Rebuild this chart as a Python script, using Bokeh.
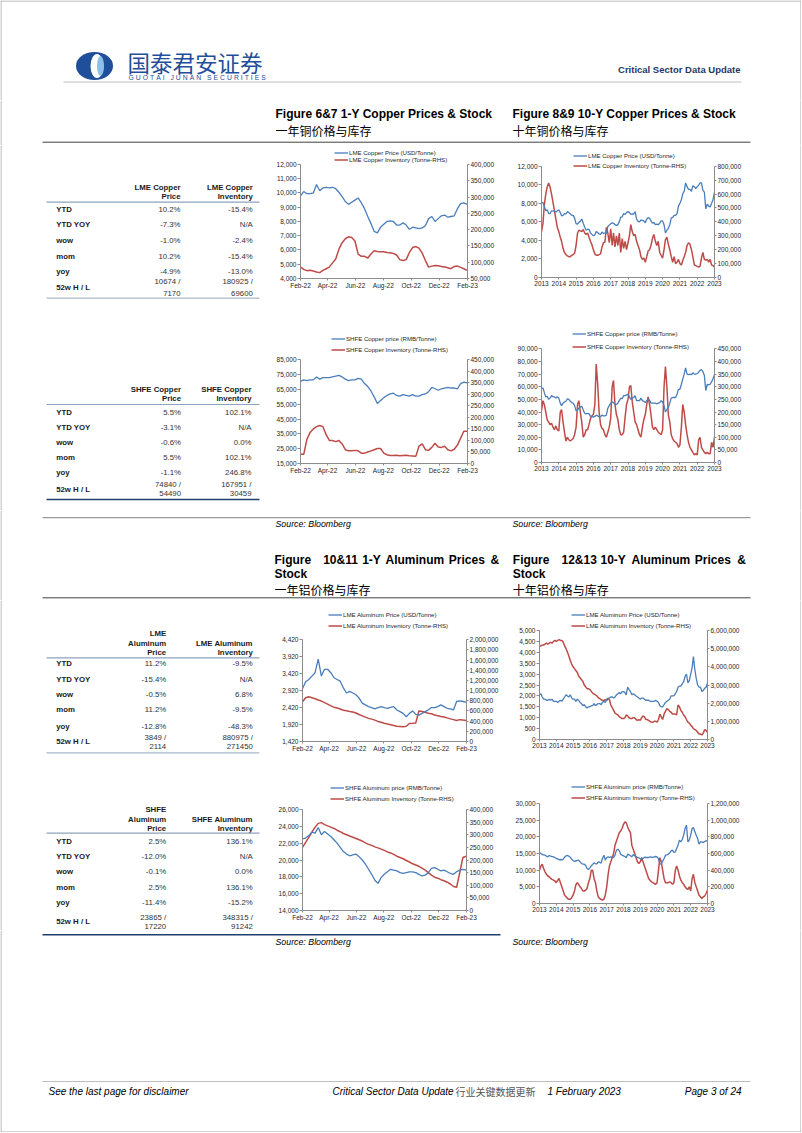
import pandas as pd
from bokeh.plotting import figure
from bokeh.layouts import column, row
from bokeh.models import (Range1d, LinearAxis, FixedTicker, DatetimeTickFormatter,
                          NumeralTickFormatter, Legend, LegendItem)
from bokeh.core.properties import value
from bokeh.embed import file_html
from bokeh.resources import INLINE

# ------------------------------------------------------------------ data
ROW_LABELS = ["YTD", "YTD YOY", "wow", "mom", "yoy", "52w H / L"]

LME_CU_PRICE_STATS = ["10.2%", "-7.3%", "-1.0%", "10.2%", "-4.9%"]
LME_CU_PRICE_HL = ["10674 /", "7170"]
LME_CU_INV_STATS = ["-15.4%", "N/A", "-2.4%", "-15.4%", "-13.0%"]
LME_CU_INV_HL = ["180925 /", "69600"]

SHFE_CU_PRICE_STATS = ["5.5%", "-3.1%", "-0.6%", "5.5%", "-1.1%"]
SHFE_CU_PRICE_HL = ["74840 /", "54490"]
SHFE_CU_INV_STATS = ["102.1%", "N/A", "0.0%", "102.1%", "246.8%"]
SHFE_CU_INV_HL = ["167951 /", "30459"]

LME_AL_PRICE_STATS = ["11.2%", "-15.4%", "-0.5%", "11.2%", "-12.8%"]
LME_AL_PRICE_HL = ["3849 /", "2114"]
LME_AL_INV_STATS = ["-9.5%", "N/A", "6.8%", "-9.5%", "-48.3%"]
LME_AL_INV_HL = ["880975 /", "271450"]

SHFE_AL_PRICE_STATS = ["2.5%", "-12.0%", "-0.1%", "2.5%", "-11.4%"]
SHFE_AL_PRICE_HL = ["23865 /", "17220"]
SHFE_AL_INV_STATS = ["136.1%", "N/A", "0.0%", "136.1%", "-15.2%"]
SHFE_AL_INV_HL = ["348315 /", "91242"]

# 1-year charts: weekly readings from 1 Feb 2022
LME_CU_1Y_PRICE = [9800, 10100, 9950, 9950, 10000, 10600, 10150, 10350, 10400, 10350,
                   10400, 10300, 10050, 9750, 9400, 9200, 9350, 9500, 9650, 9300,
                   8900, 8350, 7850, 7300, 7200, 7600, 7800, 8000, 8050, 8000,
                   7750, 7750, 7900, 7750, 7450, 7600, 7550, 7500, 7550, 7700,
                   8200, 8350, 8000, 8200, 8400, 8450, 8300, 8350, 8400, 8900,
                   9250, 9300, 9200]
LME_CU_1Y_INV = [85000, 78000, 74000, 75000, 73000, 70000, 68000, 75000, 80000, 85000,
                 98000, 110000, 140000, 160000, 172000, 178000, 176000, 165000, 125000, 118000,
                 118000, 113000, 125000, 135000, 133000, 132000, 132000, 130000, 129000, 127000,
                 122000, 108000, 105000, 108000, 130000, 145000, 148000, 143000, 128000, 105000,
                 85000, 88000, 90000, 89000, 87000, 85000, 83000, 80000, 87000, 88000,
                 84000, 80000, 75000]
SHFE_CU_1Y_PRICE = [70500, 71500, 71000, 71500, 71500, 73500, 72000, 73000, 73000, 73000,
                    73500, 74000, 74500, 73500, 72000, 71000, 71500, 71500, 72500, 72000,
                    69000, 67000, 64000, 60000, 55500, 57500, 59500, 61000, 62000, 62500,
                    61000, 60500, 61500, 61000, 60500, 61500, 60500, 60500, 61500, 62000,
                    63500, 66500, 65500, 64500, 65500, 66000, 66500, 66000, 66000, 65500,
                    69000, 70000, 69500]
SHFE_CU_1Y_INV = [40000, 40000, 105000, 135000, 150000, 160000, 165000, 160000, 125000, 100000,
                  100000, 95000, 100000, 85000, 60000, 55000, 55000, 57000, 55000, 45000,
                  45000, 50000, 55000, 60000, 65000, 65000, 45000, 38000, 35000, 35000,
                  36000, 34000, 35000, 36000, 34000, 33000, 31000, 75000, 85000, 60000,
                  57000, 70000, 88000, 72000, 70000, 75000, 60000, 55000, 62000, 80000,
                  110000, 140000, 140000]
LME_AL_1Y_PRICE = [2980, 3180, 3250, 3350, 3450, 3850, 3350, 3550, 3550, 3450,
                   3300, 3250, 3200, 3000, 2850, 2900, 2850, 2800, 2700, 2550,
                   2500, 2450, 2420, 2380, 2420, 2450, 2420, 2400, 2430, 2450,
                   2350, 2300, 2250, 2150, 2250, 2320, 2220, 2200, 2250, 2300,
                   2350, 2420, 2420, 2450, 2500, 2450, 2400, 2380, 2350, 2600,
                   2620, 2600, 2580]
LME_AL_1Y_INV = [780000, 860000, 880000, 860000, 840000, 815000, 795000, 765000, 735000, 700000,
                 675000, 660000, 640000, 615000, 605000, 590000, 580000, 560000, 530000, 505000,
                 480000, 455000, 440000, 420000, 395000, 380000, 360000, 345000, 330000, 315000,
                 300000, 295000, 290000, 300000, 355000, 358000, 362000, 600000, 590000, 575000,
                 555000, 545000, 520000, 505000, 490000, 480000, 465000, 445000, 430000, 415000,
                 430000, 425000, 415000]
SHFE_AL_1Y_PRICE = [22500, 22600, 22900, 23300, 23200, 23865, 23000, 23400, 23100, 22800,
                    22400, 22000, 21500, 21000, 20700, 20500, 20600, 20700, 20400, 20000,
                    19500, 18900, 18300, 17600, 17220, 17900, 18300, 18600, 18900, 18800,
                    18700, 18500, 18400, 18500, 18600, 18600, 18500, 18300, 18100, 18200,
                    18500, 19000, 19100, 18900, 18700, 18800, 18600, 18400, 18300, 18600,
                    18800, 18900, 18800]
SHFE_AL_1Y_INV = [250000, 270000, 290000, 310000, 330000, 345000, 348000, 340000, 335000, 330000,
                  325000, 318000, 312000, 305000, 300000, 295000, 290000, 285000, 280000, 275000,
                  268000, 262000, 258000, 252000, 248000, 243000, 238000, 232000, 228000, 222000,
                  215000, 210000, 205000, 198000, 192000, 185000, 180000, 175000, 168000, 160000,
                  150000, 140000, 132000, 128000, 122000, 118000, 112000, 105000, 95000, 92000,
                  150000, 210000, 215000]

# 10-year charts: monthly readings from Jan 2013 to Feb 2023
LME_CU_10Y_PRICE = [8050, 8100, 7650, 7200, 7300, 6900, 6900, 7200, 7150, 7200, 7050, 7200,
                    7300, 7000, 6650, 6700, 6900, 6850, 7100, 7000, 6850, 6700, 6700, 6400,
                    5800, 5750, 5950, 6050, 6300, 5850, 5450, 5100, 5200, 5200, 4800, 4650,
                    4500, 4600, 4950, 4850, 4700, 4650, 4900, 4750, 4800, 4750, 5500, 5650,
                    5800, 5900, 5850, 5700, 5600, 5700, 6000, 6500, 6550, 6900, 6800, 7000,
                    7100, 7000, 6800, 6850, 6850, 7100, 6300, 6050, 6000, 6200, 6150, 6100,
                    5900, 6300, 6450, 6400, 6100, 5850, 5950, 5700, 5750, 5700, 5850, 6100,
                    6100, 5700, 4800, 5100, 5300, 5700, 6400, 6500, 6700, 6700, 6900, 7700,
                    8000, 8400, 9000, 9300, 10200, 9800, 9500, 9500, 9300, 9900, 9800, 9600,
                    9800, 9950, 10200, 10200, 9400, 9200, 7400, 7900, 7700, 7600, 8000, 8400,
                    9200, 9300]
LME_CU_10Y_INV = [330000, 390000, 520000, 600000, 650000, 680000, 650000, 600000, 540000, 480000, 420000, 360000,
                  330000, 290000, 260000, 210000, 180000, 165000, 155000, 150000, 150000, 160000, 165000, 175000,
                  230000, 320000, 340000, 335000, 330000, 345000, 320000, 310000, 320000, 290000, 260000, 235000,
                  200000, 170000, 160000, 160000, 165000, 170000, 220000, 250000, 255000, 360000, 320000, 250000,
                  350000, 230000, 320000, 220000, 300000, 230000, 320000, 180000, 280000, 210000, 260000, 200000,
                  250000, 300000, 380000, 330000, 300000, 310000, 260000, 230000, 200000, 150000, 130000, 140000,
                  110000, 150000, 190000, 200000, 230000, 280000, 310000, 260000, 230000, 260000, 180000, 160000,
                  140000, 200000, 270000, 290000, 240000, 200000, 150000, 110000, 150000, 100000, 110000, 130000,
                  100000, 90000, 120000, 150000, 180000, 230000, 250000, 240000, 200000, 150000, 90000, 85000,
                  80000, 75000, 80000, 140000, 180000, 130000, 125000, 130000, 110000, 130000, 90000, 85000,
                  75000, 75000]
SHFE_CU_10Y_PRICE = [58500, 59000, 55500, 52000, 52500, 50000, 51000, 53000, 52000, 52000, 51000, 52000,
                     51000, 47000, 45000, 47000, 48000, 48500, 50500, 50000, 48500, 47500, 47000, 45000,
                     41000, 41500, 43000, 44000, 44500, 41500, 39000, 38500, 39000, 38500, 36500, 36500,
                     36000, 36500, 37500, 37000, 36000, 36500, 37500, 37000, 37000, 37500, 43000, 45000,
                     47000, 48000, 47500, 46000, 46000, 47000, 49000, 51000, 50500, 53000, 53000, 53500,
                     54000, 52000, 50000, 51000, 51500, 53000, 49000, 49000, 49000, 51000, 49000, 48500,
                     47500, 49000, 50000, 49500, 47000, 47000, 47000, 47000, 46500, 47000, 47500, 49000,
                     48000, 45000, 40000, 42000, 43500, 47000, 51000, 51500, 51500, 51500, 54000, 58000,
                     58000, 62000, 66000, 70000, 75000, 70000, 69500, 70000, 69500, 71000, 70000, 70000,
                     70500, 71500, 73000, 73500, 72000, 69000, 57000, 62000, 61500, 62000, 64000, 66500,
                     69500, 70000]
SHFE_CU_10Y_INV = [205000, 245000, 230000, 200000, 170000, 160000, 150000, 155000, 140000, 130000, 145000, 130000,
                   125000, 200000, 210000, 160000, 120000, 85000, 100000, 90000, 85000, 90000, 95000, 110000,
                   140000, 230000, 245000, 200000, 160000, 100000, 110000, 130000, 130000, 150000, 175000, 185000,
                   190000, 230000, 390000, 310000, 200000, 150000, 135000, 130000, 110000, 100000, 120000, 140000,
                   175000, 300000, 325000, 230000, 190000, 170000, 130000, 110000, 110000, 120000, 180000, 230000,
                   250000, 300000, 305000, 240000, 200000, 160000, 150000, 130000, 110000, 100000, 140000, 170000,
                   190000, 230000, 260000, 230000, 190000, 140000, 130000, 140000, 130000, 120000, 115000, 110000,
                   130000, 300000, 380000, 300000, 190000, 160000, 110000, 95000, 85000, 80000, 75000, 60000,
                   70000, 140000, 230000, 200000, 150000, 110000, 80000, 60000, 50000, 40000, 30000, 35000,
                   30000, 90000, 100000, 60000, 50000, 40000, 35000, 40000, 35000, 35000, 80000, 60000,
                   100000, 140000]
LME_AL_10Y_PRICE = [2050, 2100, 1950, 1850, 1850, 1800, 1800, 1850, 1800, 1850, 1750, 1750,
                    1750, 1700, 1750, 1800, 1750, 1850, 1950, 2050, 2000, 1950, 2050, 1900,
                    1850, 1850, 1750, 1850, 1800, 1700, 1650, 1550, 1600, 1500, 1450, 1500,
                    1500, 1550, 1550, 1650, 1550, 1600, 1650, 1650, 1600, 1700, 1750, 1700,
                    1850, 1900, 1900, 1950, 1950, 1900, 1950, 2050, 2100, 2150, 2100, 2200,
                    2200, 2150, 2050, 2400, 2300, 2200, 2050, 2100, 2050, 2000, 1950, 1900,
                    1850, 1900, 1900, 1850, 1800, 1800, 1800, 1750, 1750, 1750, 1750, 1800,
                    1750, 1700, 1550, 1500, 1500, 1600, 1700, 1750, 1800, 1850, 2000, 2000,
                    2000, 2100, 2200, 2400, 2450, 2450, 2550, 2650, 2900, 3000, 2600, 2700,
                    3000, 3300, 3800, 3200, 2800, 2500, 2400, 2400, 2200, 2250, 2350, 2400,
                    2600, 2600]
LME_AL_10Y_INV = [5150000, 5150000, 5200000, 5200000, 5250000, 5300000, 5250000, 5300000, 5350000, 5300000, 5400000, 5450000,
                  5400000, 5450000, 5500000, 5450000, 5450000, 5350000, 5150000, 5000000, 4800000, 4600000, 4350000, 4150000,
                  4000000, 3900000, 3800000, 3700000, 3500000, 3400000, 3300000, 3200000, 3000000, 2900000, 2800000, 2800000,
                  2750000, 2650000, 2550000, 2500000, 2450000, 2400000, 2300000, 2250000, 2200000, 2150000, 2150000, 2200000,
                  2150000, 2250000, 2200000, 1900000, 1750000, 1600000, 1450000, 1400000, 1350000, 1250000, 1200000, 1150000,
                  1150000, 1200000, 1350000, 1300000, 1200000, 1150000, 1150000, 1200000, 1200000, 1100000, 1050000, 1100000,
                  1050000, 1200000, 1300000, 1250000, 1100000, 1100000, 1050000, 1000000, 950000, 950000, 1000000, 1000000,
                  950000, 1100000, 1400000, 1250000, 1100000, 1400000, 1550000, 1700000, 1650000, 1550000, 1500000, 1400000,
                  1400000, 1400000, 1350000, 1900000, 1800000, 1600000, 1500000, 1350000, 1250000, 1100000, 950000, 900000,
                  800000, 700000, 600000, 550000, 500000, 400000, 300000, 300000, 250000, 350000, 550000, 500000,
                  400000, 400000]
SHFE_AL_10Y_PRICE = [15300, 15000, 14700, 14600, 14500, 14200, 14000, 14400, 14200, 14100, 14000, 13800,
                     13500, 13400, 13100, 13200, 13100, 13300, 13900, 14300, 14400, 14200, 13900, 13300,
                     12900, 12600, 12800, 12900, 13000, 12500, 12100, 11800, 11800, 11400, 10500, 10200,
                     10700, 11300, 11700, 12200, 11900, 11900, 12500, 12400, 12100, 13500, 14500, 13000,
                     13800, 14000, 13800, 14000, 13900, 13800, 14500, 16000, 16300, 15800, 14800, 14500,
                     14300, 14100, 13700, 14800, 14600, 14300, 14000, 14700, 14300, 14100, 13800, 13700,
                     13400, 13500, 13500, 13900, 13800, 13800, 13800, 14000, 13900, 13800, 14000, 14100,
                     14000, 13400, 11800, 11900, 12700, 13500, 14500, 14600, 14800, 15200, 15800, 16000,
                     15300, 15500, 16500, 17500, 19000, 18500, 19200, 20500, 22500, 23500, 18500, 19000,
                     20500, 22500, 22800, 21500, 20500, 19500, 17800, 18500, 18500, 18300, 18600, 18800,
                     18900, 18800]
SHFE_AL_10Y_INV = [400000, 450000, 470000, 420000, 380000, 350000, 330000, 320000, 300000, 290000, 280000, 270000,
                   250000, 280000, 300000, 250000, 200000, 150000, 100000, 80000, 60000, 50000, 50000, 70000,
                   100000, 150000, 220000, 250000, 230000, 200000, 180000, 150000, 150000, 160000, 180000, 250000,
                   300000, 400000, 400000, 300000, 250000, 150000, 80000, 60000, 50000, 40000, 50000, 100000,
                   200000, 350000, 450000, 500000, 550000, 600000, 700000, 750000, 800000, 850000, 870000, 900000,
                   950000, 980000, 970000, 920000, 880000, 850000, 700000, 650000, 600000, 550000, 500000, 480000,
                   500000, 550000, 500000, 450000, 400000, 350000, 300000, 280000, 260000, 250000, 240000, 230000,
                   250000, 400000, 550000, 500000, 400000, 300000, 250000, 250000, 250000, 260000, 250000, 230000,
                   250000, 400000, 450000, 400000, 330000, 280000, 250000, 230000, 200000, 180000, 170000, 200000,
                   150000, 300000, 350000, 250000, 200000, 150000, 100000, 80000, 60000, 80000, 90000, 120000,
                   160000, 200000]

DATES_1Y = pd.date_range("2022-02-01", periods=len(LME_CU_1Y_PRICE), freq="7D")
DATES_10Y = pd.date_range("2013-01-01", periods=len(LME_CU_10Y_PRICE), freq="MS")
TICKS_1Y = ["2022-02-01", "2022-04-01", "2022-06-01", "2022-08-01", "2022-10-01", "2022-12-01", "2023-02-01"]
TICKS_10Y = [f"{y}-01-01" for y in range(2013, 2024)]

# ------------------------------------------------------------------ style
FONT = "Liberation Sans"
CJK = "Noto Sans CJK SC"
BLUE = "#4A7EBB"
RED = "#BE4B48"
AXIS = "#8C8C8C"
NAVY = "#1F3F6E"
LOGO = "#1F4E9A"
PAGE_W, PAGE_H = 801, 1132


def ms(s):
    return pd.Timestamp(s).value // 10**6


def canvas(x0, y0, x1, y1):
    p = figure(width=x1 - x0, height=y1 - y0, x_range=Range1d(x0, x1), y_range=Range1d(y1, y0),
               x_axis_type=None, y_axis_type=None, output_backend="svg",
               toolbar_location=None, min_border=0)
    p.outline_line_color = None
    return p


def txt(p, x, y, s, size, style="normal", align="left", color="#000000", font=FONT):
    p.text(x=[x], y=[y], text=[s], text_font=value(font), text_font_size=f"{size}px",
           text_font_style=style, text_align=align, text_baseline="middle", text_color=color)


def hline(p, x0, x1, y, color, w=1.0):
    p.line(x=[x0, x1], y=[y, y], line_color=color, line_width=w)


def vline(p, x, y0, y1, color="#A6A6A6", w=1.0):
    p.line(x=[x, x], y=[y0, y1], line_color=color, line_width=w)


def style_axis(ax, tick_out=3, standoff=1):
    ax.axis_line_color = AXIS
    ax.major_tick_line_color = AXIS
    ax.minor_tick_line_color = None
    ax.major_tick_out = tick_out
    ax.major_tick_in = 0
    ax.major_label_text_font = FONT
    ax.major_label_text_font_size = "6.5px"
    ax.major_label_text_color = "#262626"
    ax.major_label_standoff = standoff


def chart(box, frame, dates, price, inv, yr, ystep, y2r, y2step, ticks, xfmt, labels, leg):
    """frame = page position of the axes box; the drawing frame itself is stretched
    up to the top of the figure so the legend can sit above the value range."""
    x0, y0, x1, y1 = box
    L, T, R, B = frame
    top = y0 + 2
    k = (B - top) / (B - T)
    p = figure(width=x1 - x0, height=y1 - y0, x_axis_type="datetime",
               x_range=Range1d(ms(ticks[0]), ms(ticks[-1])),
               y_range=Range1d(yr[0], yr[0] + (yr[1] - yr[0]) * k),
               min_border_left=round(L - x0), min_border_right=round(x1 - R),
               min_border_top=round(top - y0), min_border_bottom=round(y1 - B),
               output_backend="svg", toolbar_location=None)
    p.grid.visible = False
    p.outline_line_color = None
    p.extra_y_ranges = {"inv": Range1d(y2r[0], y2r[0] + (y2r[1] - y2r[0]) * k)}
    r2 = p.line(dates, inv, line_color=RED, line_width=1.5, y_range_name="inv")
    r1 = p.line(dates, price, line_color=BLUE, line_width=1.3)

    yax = p.yaxis[0]
    yax.ticker = FixedTicker(ticks=list(range(yr[0], yr[1] + 1, ystep)))
    yax.formatter = NumeralTickFormatter(format="0,0")
    yax.bounds = (yr[0], yr[1])
    style_axis(yax, 3, 1)
    ax2 = LinearAxis(y_range_name="inv", bounds=(y2r[0], y2r[1]),
                     ticker=FixedTicker(ticks=list(range(y2r[0], y2r[1] + 1, y2step))),
                     formatter=NumeralTickFormatter(format="0,0"))
    style_axis(ax2, 2, 1)
    p.add_layout(ax2, "right")
    xax = p.xaxis[0]
    xax.ticker = FixedTicker(ticks=[ms(t) for t in ticks])
    xax.formatter = DatetimeTickFormatter(days=xfmt, months=xfmt, years=xfmt)
    style_axis(xax, 2, 1)

    c1, c2, gx = leg
    ih = 7
    sp = max(0, round(c2 - c1 - ih))
    bottom = c1 - ih / 2 + 2 * ih + sp
    lg = Legend(items=[LegendItem(label=labels[0], renderers=[r1]),
                       LegendItem(label=labels[1], renderers=[r2])],
                location=(round(gx - L), round(B - bottom)), orientation="vertical",
                padding=0, margin=0, spacing=sp, glyph_width=14, glyph_height=ih,
                label_height=ih, label_standoff=1, label_text_font=FONT,
                label_text_font_size="6.1px", label_text_color="#262626",
                border_line_color=None, background_fill_alpha=0)
    p.add_layout(lg)
    return p


def table(p, heads1, heads2, head_y, under_y, row_ys, s1, s2, hl1, hl2, hl_ys, c1x, c2x,
          bottom_y=None, bottom_color=None, bottom_w=1.0):
    gap = 9.2
    for i, h in enumerate(reversed(heads1)):
        txt(p, c1x, head_y - i * gap, h, 7.8, "bold", "right", "#1a1a1a")
    for i, h in enumerate(reversed(heads2)):
        txt(p, c2x, head_y - i * gap, h, 7.8, "bold", "right", "#1a1a1a")
    hline(p, 46, 259, under_y, "#8EA3BC", 1.2)
    for lab, y, a, b in zip(ROW_LABELS[:5], row_ys, s1, s2):
        txt(p, 55.7, y, lab, 7.8, "bold", "left", "#1a1a1a")
        txt(p, c1x, y, a, 7.8, "normal", "right", "#333333")
        txt(p, c2x, y, b, 7.8, "normal", "right", "#333333")
    txt(p, 55.7, (hl_ys[0] + hl_ys[1]) / 2, ROW_LABELS[5], 7.8, "bold", "left", "#1a1a1a")
    for k in range(2):
        txt(p, c1x, hl_ys[k], hl1[k], 7.8, "normal", "right", "#333333")
        txt(p, c2x, hl_ys[k], hl2[k], 7.8, "normal", "right", "#333333")
    if bottom_y is not None:
        hline(p, 46, 259, bottom_y, bottom_color, bottom_w)


def edge(y0, y1):
    e = canvas(794, y0, PAGE_W, y1)
    vline(e, 800.5, y0, y1)
    return e


# ------------------------------------------------------------------ header
head = canvas(0, 0, PAGE_W, 100)
hline(head, 0, PAGE_W, 0.5, "#A6A6A6")
vline(head, 0.5, 0, 100)
vline(head, 800.5, 0, 100)
head.ellipse(x=[94], y=[65.5], width=[37], height=[28], fill_color=LOGO, line_color=None)
head.ellipse(x=[96.5], y=[65.5], width=[13], height=[24], fill_color="#FFFFFF", line_color=None)
head.ellipse(x=[100], y=[65.5], width=[7], height=[20], fill_color="#8CC0E8", line_color=None)
txt(head, 127, 61, "国泰君安证券", 22.5, "normal", "left", LOGO, CJK)
LOGO_EN = "GUOTAI JUNAN SECURITIES"
CW = {"G": .778, "U": .722, "O": .778, "T": .611, "A": .667, "I": .278, " ": .278, "J": .5,
      "N": .722, "S": .667, "E": .667, "C": .722, "R": .722}
xx = 128.0
for ch in LOGO_EN:
    if ch != " ":
        txt(head, xx, 77.2, ch, 6.8, "normal", "left", LOGO)
    xx += CW[ch] * 6.8 + 2.0
txt(head, 740, 69, "Critical Sector Data Update", 9.5, "bold", "right", "#1F3864")
hline(head, 63, 741, 81.5, "#BFBFBF", 1)

# ------------------------------------------------------------------ titles band (copper)
tb = canvas(0, 100, PAGE_W, 145)
vline(tb, 0.5, 100, 145)
vline(tb, 800.5, 100, 145)
txt(tb, 275, 113, "Figure 6&7 1-Y Copper Prices & Stock", 12, "bold")
txt(tb, 275, 130, "一年铜价格与库存", 12, "normal", "left", "#000000", CJK)
txt(tb, 512, 113, "Figure 8&9 10-Y Copper Prices & Stock", 12, "bold")
txt(tb, 512, 130, "十年铜价格与库存", 12, "normal", "left", "#000000", CJK)
hline(tb, 42, 750, 141.7, "#404040", 1)

# ------------------------------------------------------------------ copper block
left1 = canvas(0, 145, 270, 510)
vline(left1, 0.5, 145, 510)
table(left1, ["LME Copper", "Price"], ["LME Copper", "Inventory"], 195.7, 201.7,
      [209.3, 224.3, 240, 255.7, 270.7], LME_CU_PRICE_STATS, LME_CU_INV_STATS,
      LME_CU_PRICE_HL, LME_CU_INV_HL, (281, 293.3), 180, 252.3, 297.7, "#A9B9CB", 1.2)
table(left1, ["SHFE Copper", "Price"], ["SHFE Copper", "Inventory"], 398.3, 404,
      [412.3, 426.7, 442, 457.3, 472.3], SHFE_CU_PRICE_STATS, SHFE_CU_INV_STATS,
      SHFE_CU_PRICE_HL, SHFE_CU_INV_HL, (484, 493.3), 180.5, 251, 499, NAVY, 1.4)

c1 = chart((270, 145, 505, 305), (299.3, 164, 466.7, 278.3), DATES_1Y, LME_CU_1Y_PRICE, LME_CU_1Y_INV,
           (4000, 12000), 1000, (50000, 400000), 50000, TICKS_1Y, "%b-%y",
           ["LME Copper Price (USD/Tonne)", "LME Copper Inventory (Tonne-RHS)"], (152.7, 160, 333))
c2 = chart((505, 145, 794, 305), (541, 165.7, 714.3, 276.7), DATES_10Y, LME_CU_10Y_PRICE, LME_CU_10Y_INV,
           (0, 12000), 2000, (0, 800000), 100000, TICKS_10Y, "%Y",
           ["LME Copper Price (USD/Tonne)", "LME Copper Inventory (Tonne-RHS)"], (155.7, 165.7, 573))
c3 = chart((270, 305, 505, 510), (300, 359.3, 467.3, 462.7), DATES_1Y, SHFE_CU_1Y_PRICE, SHFE_CU_1Y_INV,
           (15000, 85000), 10000, (0, 450000), 50000, TICKS_1Y, "%b-%y",
           ["SHFE Copper price (RMB/Tonne)", "SHFE Copper Inventory (Tonne-RHS)"], (338.3, 349.3, 331))
c4 = chart((505, 305, 794, 510), (541, 348.3, 714.3, 461.7), DATES_10Y, SHFE_CU_10Y_PRICE, SHFE_CU_10Y_INV,
           (0, 90000), 10000, (0, 450000), 50000, TICKS_10Y, "%Y",
           ["SHFE Copper price (RMB/Tonne)", "SHFE Copper Inventory (Tonne-RHS)"], (333.3, 346.7, 572))

# ------------------------------------------------------------------ middle band
mb = canvas(0, 510, PAGE_W, 600)
vline(mb, 0.5, 510, 600)
vline(mb, 800.5, 510, 600)
hline(mb, 42, 750, 517.2, "#808080", 1)
txt(mb, 275, 523, "Source: Bloomberg", 8.8, "italic")
txt(mb, 512, 523, "Source: Bloomberg", 8.8, "italic")
for w, x in zip(["Figure", "10&11", "1-Y", "Aluminum", "Prices", "&"],
                [274, 322.7, 361.7, 385, 448.3, 490]):
    txt(mb, x, 559, w, 12, "bold")
for w, x in zip(["Figure", "12&13", "10-Y", "Aluminum", "Prices", "&"],
                [512.3, 561, 600, 631, 694.3, 736.7]):
    txt(mb, x, 559, w, 12, "bold")
txt(mb, 274, 573.3, "Stock", 12, "bold")
txt(mb, 512.3, 573.3, "Stock", 12, "bold")
txt(mb, 274, 589.3, "一年铝价格与库存", 12, "normal", "left", "#000000", CJK)
txt(mb, 512.3, 589.3, "十年铝价格与库存", 12, "normal", "left", "#000000", CJK)
hline(mb, 42, 750, 597.3, "#404040", 1)

# ------------------------------------------------------------------ aluminum block
left2 = canvas(0, 600, 270, 930)
vline(left2, 0.5, 600, 930)
table(left2, ["LME", "Aluminum", "Price"], ["LME Aluminum", "Inventory"], 651.7, 657.3,
      [663.3, 679, 694, 709.3, 725.7], LME_AL_PRICE_STATS, LME_AL_INV_STATS,
      LME_AL_PRICE_HL, LME_AL_INV_HL, (736.7, 746), 165.7, 252.3, 752.3, "#A9B9CB", 1.2)
table(left2, ["SHFE", "Aluminum", "Price"], ["SHFE Aluminum", "Inventory"], 827.7, 832.7,
      [841, 856, 870.7, 886.7, 902], SHFE_AL_PRICE_STATS, SHFE_AL_INV_STATS,
      SHFE_AL_PRICE_HL, SHFE_AL_INV_HL, (916.7, 926), 165.7, 252.3)

c5 = chart((270, 600, 505, 765), (302.3, 639.3, 465.7, 741), DATES_1Y, LME_AL_1Y_PRICE, LME_AL_1Y_INV,
           (1420, 4420), 500, (0, 2000000), 200000, TICKS_1Y, "%b-%y",
           ["LME Aluminum Price (USD/Tonne)", "LME Aluminum Inventory (Tonne-RHS)"], (615, 626, 328))
c6 = chart((505, 600, 794, 765), (537.3, 630, 706.7, 739), DATES_10Y, LME_AL_10Y_PRICE, LME_AL_10Y_INV,
           (0, 5000), 500, (0, 6000000), 1000000, TICKS_10Y, "%Y",
           ["LME Aluminum Price (USD/Tonne)", "LME Aluminum Inventory (Tonne-RHS)"], (614, 625.3, 569))
c7 = chart((270, 765, 505, 930), (302, 809, 466, 910), DATES_1Y, SHFE_AL_1Y_PRICE, SHFE_AL_1Y_INV,
           (14000, 26000), 2000, (0, 400000), 50000, TICKS_1Y, "%b-%y",
           ["SHFE Aluminum price (RMB/Tonne)", "SHFE Aluminum Inventory (Tonne-RHS)"], (787, 797.5, 330))
c8 = chart((505, 765, 794, 930), (539, 803, 709, 903), DATES_10Y, SHFE_AL_10Y_PRICE, SHFE_AL_10Y_INV,
           (0, 30000), 5000, (0, 1200000), 200000, TICKS_10Y, "%Y",
           ["SHFE Aluminum price (RMB/Tonne)", "SHFE Aluminum Inventory (Tonne-RHS)"], (786, 797, 571))

# ------------------------------------------------------------------ footer band
fb = canvas(0, 930, PAGE_W, PAGE_H)
vline(fb, 0.5, 930, PAGE_H)
vline(fb, 800.5, 930, PAGE_H)
hline(fb, 0, PAGE_W, PAGE_H - 0.5, "#A6A6A6")
hline(fb, 42, 500, 934.3, NAVY, 1.6)
txt(fb, 275, 941.5, "Source: Bloomberg", 8.8, "italic")
txt(fb, 512, 941.5, "Source: Bloomberg", 8.8, "italic")
hline(fb, 42, 750, 1081, "#BFBFBF", 1)
txt(fb, 48, 1091, "See the last page for disclaimer", 10, "italic")
txt(fb, 332, 1091, "Critical Sector Data Update", 10, "italic")
txt(fb, 455, 1091, "行业关键数据更新", 10, "normal", "left", "#555555", CJK)
txt(fb, 547, 1091, "1 February 2023", 10, "italic")
txt(fb, 741, 1091, "Page 3 of 24", 10, "italic", "right")

page = column(
    head, tb,
    row(left1, column(c1, c3), column(c2, c4), edge(145, 510)),
    mb,
    row(left2, column(c5, c7), column(c6, c8), edge(600, 930)),
    fb,
)

open("out.html", "w").write(file_html(page, INLINE, "Critical Sector Data Update"))
